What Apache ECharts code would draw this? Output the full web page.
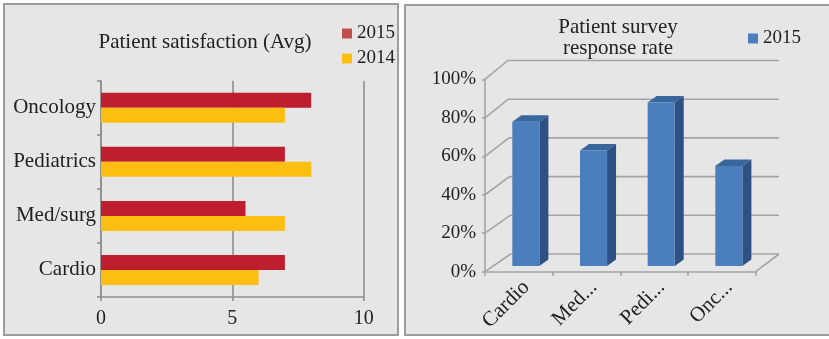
<!DOCTYPE html>
<html>
<head>
<meta charset="utf-8">
<title>Patient satisfaction and survey response</title>
<script src="https://cdn.jsdelivr.net/npm/echarts@6/dist/echarts.min.js"></script>
<style>
  html, body { margin: 0; padding: 0; background: #ffffff; }
  #chart { width: 829px; height: 339px; }
</style>
</head>
<body>
<div id="chart"></div>
<script>
// Satisfaction scores by unit (left panel)
const unitCategories = ['Cardio', 'Med/surg', 'Pediatrics', 'Oncology'];
const satisfaction2015 = [7, 5.5, 7, 8];
const satisfaction2014 = [6, 7, 8, 7];

// Survey response rate by unit (right panel)
const responseCategories = ['Cardio', 'Med...', 'Pedi...', 'Onc...'];
const response2015 = [0.75, 0.60, 0.85, 0.52];
const responseTicks = [0, 0.2, 0.4, 0.6, 0.8, 1.0];
const responseTickLabels = ['0%', '20%', '40%', '60%', '80%', '100%'];

const FONT = '"Liberation Serif", "Times New Roman", serif';
const TEXT = '#222222';
const AXIS = '#8f8f8f';
const GRID = '#a4a4a4';

const chart = echarts.init(document.getElementById('chart'), null, { renderer: 'canvas' });

// depth offset of the back wall at a given value on the 3-D panel
function wallOffset(v) {
  return [25.7 - 3 * v, -17.7 - 1.1 * v];
}

function renderWall(params, api) {
  const v = api.value(1);
  const cs = params.coordSys;
  const front = api.coord([0, v]);
  const x0 = cs.x;
  const y0 = front[1];
  const off = wallOffset(v);
  const bx = x0 + off[0];
  const by = y0 + off[1];
  const right = cs.x + cs.width + 23.3;
  const style = { stroke: GRID, lineWidth: 1.6, fill: null };
  const children = [
    { type: 'line', shape: { x1: x0, y1: y0, x2: bx, y2: by }, style: style },
    { type: 'line', shape: { x1: bx, y1: by, x2: right, y2: by }, style: style }
  ];
  if (v === 0) {
    // floor: right-hand edge back to the wall
    const fr = cs.x + cs.width;
    children.push({ type: 'line', shape: { x1: fr, y1: y0, x2: right, y2: by }, style: style });
  }
  return { type: 'group', children: children };
}

function renderBar3d(params, api) {
  const idx = api.value(0);
  const top = api.coord([idx, api.value(1)]);
  const base = api.coord([idx, 0]);
  const band = api.size([1, 0])[0];
  const w = band * 0.4;
  const shiftX = 7, shiftY = -5.7;   // bar sits a little behind the front plane
  const dX = 9, dY = -6.5;           // bar depth
  const xl = top[0] - w / 2 + shiftX;
  const xr = xl + w;
  const yt = top[1] + shiftY;
  const yb = base[1] + shiftY;
  return {
    type: 'group',
    children: [
      { type: 'polygon', shape: { points: [[xr, yt], [xr + dX, yt + dY], [xr + dX, yb + dY], [xr, yb]] },
        style: { fill: '#2d5182' } },
      { type: 'polygon', shape: { points: [[xl, yt], [xl + dX, yt + dY], [xr + dX, yt + dY], [xr, yt]] },
        style: { fill: '#3a669e' } },
      { type: 'rect', shape: { x: xl, y: yt, width: w, height: yb - yt },
        style: { fill: '#4a7ebd' } }
    ]
  };
}

const option = {
  backgroundColor: '#ffffff',
  animation: false,
  textStyle: { fontFamily: FONT, color: TEXT },
  graphic: [
    { type: 'rect', z: -10, shape: { x: 4, y: 4, width: 394, height: 331 },
      style: { fill: '#e6e6e6', stroke: '#9c9c9c', lineWidth: 2 } },
    { type: 'rect', z: -10, shape: { x: 405, y: 5, width: 430, height: 330 },
      style: { fill: '#e6e6e6', stroke: '#9c9c9c', lineWidth: 2 } },
    { type: 'text', z: 10, style: { x: 205, y: 42, text: 'Patient satisfaction (Avg)', textAlign: 'center',
      textVerticalAlign: 'middle', font: '21px ' + FONT, fill: TEXT } },
    { type: 'text', z: 10, style: { x: 618, y: 38, text: 'Patient survey\nresponse rate', textAlign: 'center',
      textVerticalAlign: 'middle', font: '21px ' + FONT, lineHeight: 21, fill: TEXT } }
  ],
  legend: [
    {
      left: 337, top: 19, orient: 'vertical', itemWidth: 10, itemHeight: 10, itemGap: 6,
      icon: 'rect', textStyle: { fontFamily: FONT, fontSize: 19, color: TEXT },
      data: [
        { name: '2015', itemStyle: { color: '#c0504d' } },
        { name: '2014', itemStyle: { color: '#fcbf11' } }
      ]
    },
    {
      left: 743, top: 24, itemWidth: 10, itemHeight: 10, icon: 'rect',
      textStyle: { fontFamily: FONT, fontSize: 19, color: TEXT },
      data: [{ name: 'Response 2015', itemStyle: { color: '#4a7ebd' } }],
      formatter: function () { return '2015'; }
    }
  ],
  grid: [
    { left: 101, right: 465.3, top: 80.7, bottom: 42 },
    { left: 485, right: 73.3, top: 79.3, bottom: 67.3 }
  ],
  xAxis: [
    {
      gridIndex: 0, type: 'value', min: 0, max: 10, interval: 5,
      axisLine: { show: true, lineStyle: { color: AXIS, width: 1.6 } },
      axisTick: { show: true, length: 4, lineStyle: { color: AXIS, width: 1.6 } },
      splitLine: { show: true, lineStyle: { color: AXIS, width: 1.6 } },
      axisLabel: { fontFamily: FONT, fontSize: 20, color: TEXT, margin: 12 }
    },
    {
      gridIndex: 1, type: 'category', data: responseCategories, boundaryGap: true,
      axisLine: { show: true, lineStyle: { color: GRID, width: 1.6 } },
      axisTick: { show: true, length: 4, lineStyle: { color: GRID, width: 1.6 } },
      axisLabel: { fontFamily: FONT, fontSize: 21, color: TEXT, rotate: 45, margin: 5,
        verticalAlign: 'top' }
    }
  ],
  yAxis: [
    {
      gridIndex: 0, type: 'category', data: unitCategories,
      axisLine: { show: true, lineStyle: { color: AXIS, width: 1.6 } },
      axisTick: { show: true, length: 4, lineStyle: { color: AXIS, width: 1.6 } },
      axisLabel: { fontFamily: FONT, fontSize: 21, color: TEXT, margin: 5 }
    },
    {
      gridIndex: 1, type: 'value', min: 0, max: 1, interval: 0.2,
      axisLine: { show: true, lineStyle: { color: GRID, width: 1.6 } },
      axisTick: { show: true, length: 3, lineStyle: { color: GRID, width: 1.6 } },
      splitLine: { show: false },
      axisLabel: {
        fontFamily: FONT, fontSize: 19, color: TEXT, margin: 9,
        formatter: function (v) {
          const i = responseTicks.findIndex(t => Math.abs(t - v) < 1e-6);
          return i >= 0 ? responseTickLabels[i] : '';
        }
      }
    }
  ],
  series: [
    {
      name: '2015', type: 'bar', xAxisIndex: 0, yAxisIndex: 0,
      data: satisfaction2015, barWidth: 15, barGap: '0%',
      itemStyle: { color: '#be1e2d' }
    },
    {
      name: '2014', type: 'bar', xAxisIndex: 0, yAxisIndex: 0,
      data: satisfaction2014, barWidth: 15, barGap: '0%',
      itemStyle: { color: '#fcbf11' }
    },
    {
      name: 'wall', type: 'custom', xAxisIndex: 1, yAxisIndex: 1, clip: false, z: 1,
      silent: true, renderItem: renderWall,
      data: responseTicks.map(v => [0, v])
    },
    {
      name: 'Response 2015', type: 'custom', xAxisIndex: 1, yAxisIndex: 1, clip: false, z: 3,
      renderItem: renderBar3d,
      data: response2015.map((v, i) => [i, v])
    }
  ]
};

chart.setOption(option);
</script>
</body>
</html>
